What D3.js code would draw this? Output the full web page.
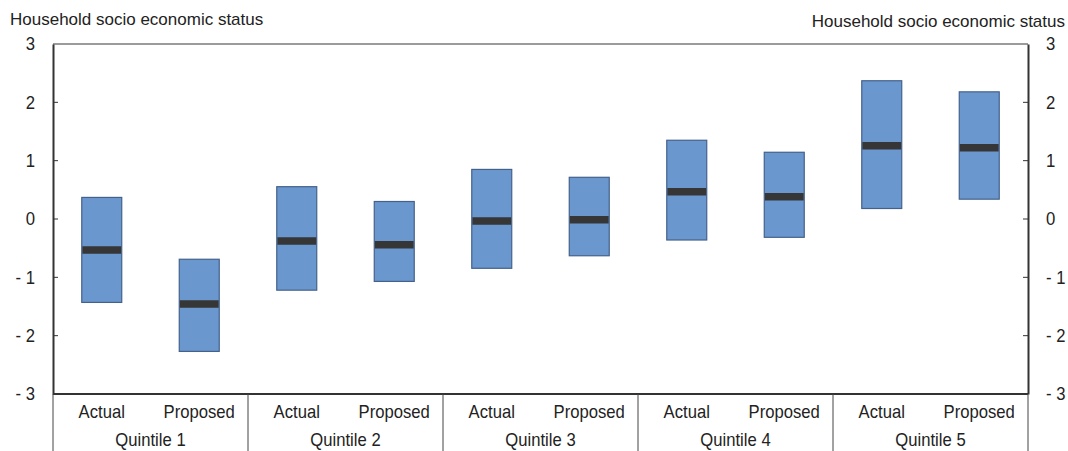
<!DOCTYPE html>
<html>
<head>
<meta charset="utf-8">
<script src="https://cdn.jsdelivr.net/npm/d3@7"></script>
<style>
  html, body { margin: 0; padding: 0; background: #fff; }
  svg { display: block; }
  text { font-family: "Liberation Sans", Arial, sans-serif; fill: #222; }
</style>
</head>
<body>
<svg id="chart" width="1068" height="451"></svg>
<script>
const groups = ["Quintile 1", "Quintile 2", "Quintile 3", "Quintile 4", "Quintile 5"];
const subCats = ["Actual", "Proposed"];
const lowValues    = [-1.43, -2.27, -1.22, -1.07, -0.845, -0.63, -0.36, -0.314, 0.18, 0.34];
const highValues   = [ 0.37, -0.69,  0.554, 0.30,  0.85,  0.715, 1.35,  1.144, 2.37, 2.18];
const medianValues = [-0.53, -1.455, -0.377, -0.44, -0.034, -0.014, 0.466, 0.38, 1.255, 1.22];
const yTicks = [-3, -2, -1, 0, 1, 2, 3];
const yTickLabels = ["- 3", "- 2", "- 1", "0", "1", "2", "3"];
const axisTitle = "Household socio economic status";

const svg = d3.select("#chart");
const m = { left: 53, right: 1028, top: 44, bottom: 394 };
const FS = "18.5px";

const keys = [];
groups.forEach((g, gi) => subCats.forEach((s, si) => keys.push(gi * 2 + si)));

const xGroup = d3.scaleBand().domain(groups).range([m.left, m.right]).paddingInner(0).paddingOuter(0);
const x = d3.scaleBand().domain(keys).range([m.left, m.right]).paddingInner(0.59).paddingOuter(0.295);
const y = d3.scaleLinear().domain([-3, 3]).range([m.bottom, m.top]);

// frame top
svg.append("line").attr("x1", m.left).attr("x2", m.right).attr("y1", m.top).attr("y2", m.top)
  .attr("stroke", "#7a7a7a").attr("stroke-width", 1.5);

// bars
const data = keys.map(i => ({ i, low: lowValues[i], high: highValues[i], med: medianValues[i] }));
svg.append("g").selectAll("rect").data(data).join("rect")
  .attr("x", d => x(d.i))
  .attr("width", x.bandwidth())
  .attr("y", d => y(d.high))
  .attr("height", d => y(d.low) - y(d.high))
  .attr("fill", "#6b97cf")
  .attr("stroke", "#44618a")
  .attr("stroke-width", 1.2);

svg.append("g").selectAll("line").data(data).join("line")
  .attr("x1", d => x(d.i) + 0.6)
  .attr("x2", d => x(d.i) + x.bandwidth() - 0.6)
  .attr("y1", d => y(d.med))
  .attr("y2", d => y(d.med))
  .attr("stroke", "#363636")
  .attr("stroke-width", 7.5);

// left axis
const fmt = v => yTickLabels[yTicks.indexOf(v)];
const leftAxis = d3.axisLeft(y).tickValues(yTicks).tickSize(0).tickPadding(18).tickFormat(fmt);
const gl = svg.append("g").attr("transform", `translate(${m.left},0)`).call(leftAxis);
gl.select(".domain").attr("stroke", "#333").attr("stroke-width", 2);
gl.selectAll("text").style("font-size", FS).attr("fill", "#222").attr("font-family", "'Liberation Sans', Arial, sans-serif");
svg.append("g").selectAll("line").data(yTicks.filter(v => v > -3 && v < 3)).join("line")
  .attr("x1", m.left).attr("x2", m.left + 5).attr("y1", d => y(d)).attr("y2", d => y(d))
  .attr("stroke", "#333").attr("stroke-width", 1);

// right axis
const rightAxis = d3.axisRight(y).tickValues(yTicks).tickSize(0).tickPadding(18).tickFormat(fmt);
const gr = svg.append("g").attr("transform", `translate(${m.right},0)`).call(rightAxis);
gr.select(".domain").attr("stroke", "#333").attr("stroke-width", 2);
gr.selectAll("text").style("font-size", FS).attr("fill", "#222").attr("font-family", "'Liberation Sans', Arial, sans-serif");
svg.append("g").selectAll("line").data(yTicks.filter(v => v > -3 && v < 3)).join("line")
  .attr("x1", m.right - 5).attr("x2", m.right).attr("y1", d => y(d)).attr("y2", d => y(d))
  .attr("stroke", "#333").attr("stroke-width", 1);

// bottom axis line
svg.append("line").attr("x1", m.left).attr("x2", m.right).attr("y1", m.bottom).attr("y2", m.bottom)
  .attr("stroke", "#333").attr("stroke-width", 2);

// group separators
const bounds = groups.map(g => xGroup(g)).concat([m.right]);
svg.append("g").selectAll("line").data(bounds).join("line")
  .attr("x1", d => d).attr("x2", d => d).attr("y1", m.bottom).attr("y2", 451)
  .attr("stroke", "#444").attr("stroke-width", 1);

// sub-category labels
svg.append("g").selectAll("text").data(data).join("text")
  .attr("x", d => x(d.i) + x.bandwidth() / 2)
  .attr("y", 418)
  .attr("text-anchor", "middle")
  .style("font-size", FS)
  .text(d => subCats[d.i % 2]);

// group labels
svg.append("g").selectAll("text").data(groups).join("text")
  .attr("x", g => xGroup(g) + xGroup.bandwidth() / 2)
  .attr("y", 446)
  .attr("text-anchor", "middle")
  .style("font-size", FS)
  .text(g => g);

// condense labels to mimic a narrow typeface
svg.selectAll("text").each(function () {
  const len = this.getComputedTextLength();
  if (len > 0) {
    d3.select(this).attr("textLength", (len * 0.9).toFixed(1)).attr("lengthAdjust", "spacingAndGlyphs");
  }
});

// axis titles
svg.append("text").attr("x", 10).attr("y", 25).style("font-size", "17px").text(axisTitle);
svg.append("text").attr("x", 1065).attr("y", 27).attr("text-anchor", "end").style("font-size", "17px").text(axisTitle);
</script>
</body>
</html>
